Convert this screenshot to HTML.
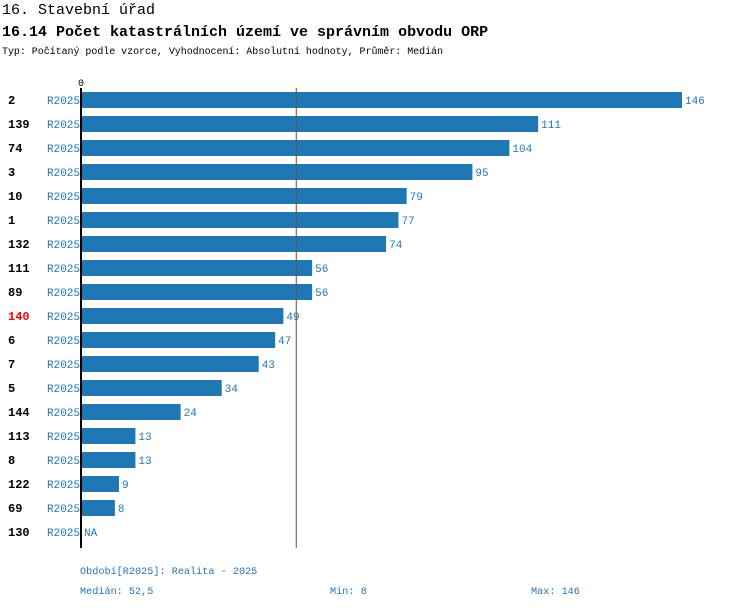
<!DOCTYPE html>
<html><head><meta charset="utf-8"><style>
body{margin:0;background:#fff;width:750px;height:608px;overflow:hidden}
svg text{font-family:"Liberation Mono","DejaVu Sans Mono",monospace}
</style></head><body>
<svg width="750" height="608">
<text x="2" y="14" font-size="15">16. Stavební úřad</text>
<text x="2" y="36" font-size="15" font-weight="bold">16.14 Počet katastrálních území ve správním obvodu ORP</text>
<text x="2" y="54" font-size="10" textLength="441">Typ: Počítaný podle vzorce, Vyhodnocení: Absolutní hodnoty, Průměr: Medián</text>
<text x="78" y="86" font-size="10">0</text>
<g id="bars"></g>
<line x1="81" y1="88" x2="81" y2="548" stroke="#000" stroke-width="2"/>
<line id="med" y1="88" y2="548" stroke="#555" stroke-width="1"/>
<text x="80" y="574" font-size="10.2" fill="#1f77b4">Období[R2025]: Realita - 2025</text>
<text x="80" y="594" font-size="10.2" fill="#1f77b4">Medián: 52,5</text>
<text x="330" y="594" font-size="10.2" fill="#1f77b4">Min: 8</text>
<text x="531" y="594" font-size="10.2" fill="#1f77b4">Max: 146</text>
</svg>
<script>
const categories=["2","139","74","3","10","1","132","111","89","140","6","7","5","144","113","8","122","69","130"];
const values=[146,111,104,95,79,77,74,56,56,49,47,43,34,24,13,13,9,8,null];
const highlight=["140"];
const median=52.5;
const X0=82,SC=600/146;
const x=v=>X0+v*SC;
const y=i=>100+24*i;
const ns="http://www.w3.org/2000/svg";
const g=document.getElementById('bars');
const med=document.getElementById('med');
med.setAttribute('x1',x(median)-1.5);med.setAttribute('x2',x(median)-1.5);
function t(xx,yy,s,opt){const e=document.createElementNS(ns,'text');e.setAttribute('x',xx);e.setAttribute('y',yy);e.setAttribute('font-size',opt.fs||11);if(opt.fill)e.setAttribute('fill',opt.fill);if(opt.fw)e.setAttribute('font-weight',opt.fw);e.textContent=s;g.appendChild(e);return e;}
categories.forEach((c,i)=>{
  const cy=y(i);
  const hl=highlight.includes(c);
  const l=t(8,cy+4,c,{fs:12,fw:'bold',fill:hl?'#ff0000':'#000'});
  
  
  const p=t(47,cy+4,'R2025',{fill:'#1f77b4'});
  
  
  const v=values[i];
  if(v!==null){
    const r=document.createElementNS(ns,'rect');
    r.setAttribute('x',X0);r.setAttribute('y',cy-8);r.setAttribute('width',x(v)-X0);r.setAttribute('height',16);r.setAttribute('fill','#1f77b4');
    
    
    g.appendChild(r);
  }
  const vl=t(v!==null?x(v)+3:84,cy+4,v!==null?String(v):'NA',{fill:'#1f77b4'});
  
  
});
</script>
</body></html>
